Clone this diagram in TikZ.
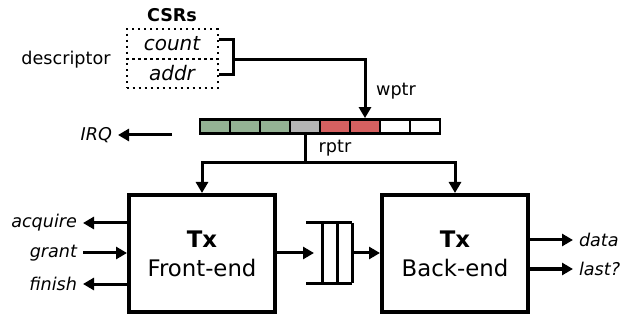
\documentclass[tikz,border=0pt]{standalone}
\usepackage{fontspec}
\setmainfont{DejaVu Sans}
\usetikzlibrary{arrows.meta}

\definecolor{slotgreen}{RGB}{148,178,148}
\definecolor{slotgray}{RGB}{180,180,180}
\definecolor{slotred}{RGB}{214,96,96}

\tikzset{
    block/.style={draw, line width=2pt, minimum width=73pt, minimum height=58.5pt,
                  align=center, font=\fontsize{11.4}{14.5}\selectfont},
    slot/.style={draw, line width=1.4pt, minimum width=15pt, minimum height=7pt, inner sep=0pt},
    csr/.style={draw, dotted, line width=1pt, minimum width=45.5pt, minimum height=14.8pt,
                inner sep=0pt, font=\fontsize{10}{12}\selectfont\itshape},
    sig/.style={inner sep=3pt, outer sep=0pt, font=\fontsize{8.8}{10}\selectfont\itshape},
    lbl/.style={inner sep=1pt, font=\fontsize{8.8}{10}\selectfont},
    wire/.style={line width=1.5pt},
    arr/.style={wire, -{Triangle[length=5.5pt,width=6pt]}},
}

\begin{document}
\begin{tikzpicture}[x=0.5pt, y=-0.5pt]
    \useasboundingbox (0,0) rectangle (626,320);

    % CSRs
    \node[lbl, font=\fontsize{8.8}{10}\selectfont\bfseries] (csrs) at (172,15) {CSRs};
    \node[csr] (count) at (172,44)   {count};
    \node[csr] (addr)  at (172,73.5) {addr};
    \node[lbl] (desc)  at (66,60)    {descriptor};
    \coordinate (brk) at (233,60);

    % ring buffer
    \foreach \c [count=\i] in {slotgreen,slotgreen,slotgreen,slotgray,slotred,slotred,white,white}
        \node[slot, fill=\c] (s\i) at (185+30*\i,126.5) {};
    \node[lbl] (wptr) at (396,91)  {wptr};
    \node[lbl] (rptr) at (335,148) {rptr};
    \node[sig, anchor=east] (irq) at (118,135) {IRQ};
    \coordinate (irqsrc) at (172,135);
    \coordinate (split) at (305,163);

    % blocks
    \node[block] (fe) at (202,253.5) {\textbf{Tx}\\Front-end};
    \node[block] (be) at (455,253.5) {\textbf{Tx}\\Back-end};

    % fifo
    \coordinate (fifoin) at (314,253);
    \draw[wire] (306,223) -- (352,223) (306,283) -- (352,283);
    \foreach \x in {322,337,352}
        \draw[wire] (\x,223) -- (\x,283);
    \coordinate (fifoout) at (352,253);

    % signals
    \node[sig, anchor=east] (acq)  at (83,223) {acquire};
    \node[sig, anchor=east] (gnt)  at (83,253) {grant};
    \node[sig, anchor=east] (fin)  at (83,284) {finish};
    \node[sig, anchor=west] (data) at (573,240) {data};
    \node[sig, anchor=west] (last) at (573,269) {last?};

    \draw[wire] ([yshift=2pt]count.east) -| (brk) |- ([yshift=-0.75pt]addr.east);
    \draw[arr] (brk) -| (s6.north);
    \draw[arr] (irqsrc) -- (irq.east);
    \draw[wire] (s4.south) -- (split);
    \draw[arr] (split) -| (fe.north);
    \draw[arr] (split) -| (be.north);

    \draw[arr] (fe.west |- acq) -- (acq.east);
    \draw[arr] (gnt.east) -- (fe.west |- gnt);
    \draw[arr] (fe.west |- fin) -- (fin.east);
    \draw[arr] (fe.east |- fifoin) -- (fifoin);
    \draw[arr] (fifoout) -- (be.west |- fifoout);
    \draw[arr] (be.east |- data) -- (data.west);
    \draw[arr] (be.east |- last) -- (last.west);
\end{tikzpicture}
\end{document}
